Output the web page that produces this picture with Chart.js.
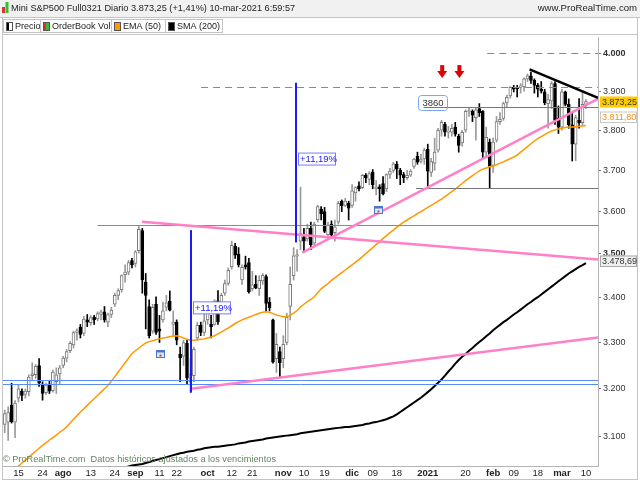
<!DOCTYPE html>
<html>
<head>
<meta charset="utf-8">
<script src="https://cdn.jsdelivr.net/npm/chart.js@4.4.1/dist/chart.umd.min.js"></script>
<style>
  html, body { margin: 0; padding: 0; background: #fff; }
  #wrap { width: 640px; height: 480px; }
</style>
</head>
<body>
<div id="wrap"><canvas id="c" width="640" height="480"></canvas></div>
<script>
// trading days, Jul 9 2020 .. Mar 10 2021 (futures session on Feb 15 included)
const dates = [
  '09/07','10/07','13/07','14/07','15/07','16/07','17/07','20/07','21/07','22/07','23/07','24/07','27/07','28/07','29/07','30/07','31/07',
  '03/08','04/08','05/08','06/08','07/08','10/08','11/08','12/08','13/08','14/08','17/08','18/08','19/08','20/08','21/08','24/08','25/08','26/08','27/08','28/08','31/08',
  '01/09','02/09','03/09','04/09','08/09','09/09','10/09','11/09','14/09','15/09','16/09','17/09','18/09','21/09','22/09','23/09','24/09','25/09','28/09','29/09','30/09',
  '01/10','02/10','05/10','06/10','07/10','08/10','09/10','12/10','13/10','14/10','15/10','16/10','19/10','20/10','21/10','22/10','23/10','26/10','27/10','28/10','29/10','30/10',
  '02/11','03/11','04/11','05/11','06/11','09/11','10/11','11/11','12/11','13/11','16/11','17/11','18/11','19/11','20/11','23/11','24/11','25/11','27/11','30/11',
  '01/12','02/12','03/12','04/12','07/12','08/12','09/12','10/12','11/12','14/12','15/12','16/12','17/12','18/12','21/12','22/12','23/12','24/12','28/12','29/12','30/12','31/12',
  '04/01','05/01','06/01','07/01','08/01','11/01','12/01','13/01','14/01','15/01','19/01','20/01','21/01','22/01','25/01','26/01','27/01','28/01','29/01',
  '01/02','02/02','03/02','04/02','05/02','08/02','09/02','10/02','11/02','12/02','15/02','16/02','17/02','18/02','19/02','22/02','23/02','24/02','25/02','26/02',
  '01/03','02/03','03/03','04/03','05/03','08/03','09/03','10/03'
];

const open = [
  3125,3130,3165,3130,3180,3195,3188,3194,3228,3230,3250,3210,3192,3210,3196,3215,3232,
  3250,3266,3282,3295,3322,3334,3320,3350,3344,3356,3352,3362,3368,3345,3362,3385,3405,3418,3452,3458,3485,
  3478,3508,3555,3435,3380,3325,3385,3330,3350,3378,3392,3340,3345,3275,3270,3298,3215,3228,3310,3338,3322,
  3350,3340,3340,3393,3370,3410,3432,3470,3518,3500,3440,3475,3480,3420,3430,3420,3438,3448,3390,3350,3265,3280,
  3265,3300,3380,3450,3495,3530,3540,3535,3560,3525,3580,3606,3600,3545,3570,3550,3575,3625,3615,3620,
  3615,3645,3662,3658,3688,3678,3696,3655,3660,3668,3655,3690,3700,3715,3700,3690,3682,3688,3710,3735,3722,3728,
  3752,3695,3718,3750,3800,3815,3795,3795,3808,3785,3768,3800,3848,3848,3832,3855,3848,3745,3770,
  3712,3775,3822,3830,3870,3888,3910,3908,3910,3912,3932,3940,3928,3915,3905,3898,3868,3875,3920,3830,
  3808,3898,3866,3814,3765,3825,3819,3866
];
const high = [
  3155,3162,3212,3175,3208,3200,3200,3230,3256,3252,3265,3215,3212,3218,3240,3245,3250,
  3270,3285,3302,3325,3330,3340,3358,3362,3360,3360,3368,3372,3380,3365,3378,3410,3420,3452,3475,3485,3490,
  3508,3566,3560,3455,3395,3385,3402,3360,3390,3405,3415,3370,3350,3290,3305,3305,3265,3290,3345,3345,3380,
  3378,3360,3395,3416,3410,3440,3468,3530,3525,3515,3475,3495,3490,3460,3450,3450,3455,3452,3400,3352,3320,3290,
  3315,3365,3470,3515,3510,3659,3560,3570,3575,3575,3615,3612,3610,3575,3578,3580,3625,3628,3632,3625,
  3665,3660,3672,3690,3692,3697,3702,3675,3665,3685,3692,3705,3720,3722,3705,3695,3700,3702,3730,3745,3740,3755,
  3765,3730,3780,3805,3825,3820,3810,3815,3820,3790,3800,3852,3858,3852,3858,3868,3850,3808,3778,
  3780,3835,3845,3872,3890,3912,3915,3915,3920,3935,3945,3950,3932,3920,3925,3905,3892,3925,3925,3862,
  3905,3900,3880,3843,3838,3881,3900,3878
];
const low = [
  3108,3092,3128,3098,3172,3175,3180,3185,3220,3222,3205,3176,3188,3190,3193,3190,3210,
  3245,3258,3278,3288,3305,3310,3315,3335,3338,3340,3348,3350,3345,3335,3355,3380,3395,3412,3435,3452,3468,
  3470,3502,3410,3330,3310,3320,3318,3300,3345,3370,3370,3315,3295,3215,3250,3210,3192,3215,3305,3315,3315,
  3340,3310,3338,3340,3365,3405,3428,3465,3490,3470,3430,3465,3410,3415,3420,3405,3430,3370,3370,3255,3235,3225,
  3245,3295,3350,3440,3460,3510,3505,3530,3510,3518,3575,3580,3550,3535,3540,3530,3570,3600,3612,3580,
  3610,3625,3650,3655,3670,3665,3655,3640,3625,3640,3648,3680,3695,3680,3665,3670,3678,3685,3705,3715,3718,3715,
  3657,3685,3700,3745,3785,3785,3780,3785,3785,3745,3760,3795,3835,3822,3775,3835,3730,3735,3657,
  3695,3770,3815,3825,3860,3882,3898,3885,3895,3900,3925,3920,3895,3885,3895,3865,3805,3855,3815,3792,
  3800,3862,3805,3723,3724,3805,3812,3855
];
const close = [
  3148,3150,3131,3170,3200,3186,3195,3225,3232,3248,3212,3190,3208,3195,3236,3230,3245,
  3266,3280,3298,3322,3326,3318,3352,3345,3355,3350,3364,3368,3350,3362,3372,3405,3416,3450,3458,3480,3475,
  3505,3558,3440,3405,3315,3378,3322,3325,3370,3388,3372,3345,3305,3267,3300,3223,3232,3285,3338,3322,3348,
  3366,3335,3393,3346,3405,3432,3462,3520,3497,3475,3469,3470,3413,3429,3422,3439,3451,3387,3377,3257,3296,3256,
  3296,3356,3430,3496,3498,3548,3530,3560,3522,3570,3612,3595,3553,3568,3544,3564,3620,3614,3625,3608,
  3650,3658,3655,3688,3682,3692,3665,3660,3655,3643,3690,3698,3716,3703,3688,3682,3688,3698,3728,3720,3728,3750,
  3698,3722,3745,3800,3820,3795,3798,3805,3790,3762,3795,3848,3850,3838,3852,3845,3745,3782,3710,
  3770,3822,3828,3868,3884,3910,3905,3906,3914,3932,3940,3928,3915,3905,3900,3870,3878,3920,3825,3808,
  3898,3866,3814,3765,3832,3819,3866,3873.25
];

const ema50 = [
  3025,3030,3033,3036,3040,3046,3052,3058,3064,3070,
  3076,3082,3087,3093,3098,3103,3109,3114,3120,3128,
  3136,3143,3151,3158,3165,3172,3179,3186,3193,3200,
  3207,3216,3226,3236,3246,3256,3266,3276,3282,3288,
  3294,3299,3302,3304,3306,3308,3310,3311,3313,3314,
  3315,3313,3310,3307,3305,3305,3306,3307,3308,3310,
  3312,3315,3319,3323,3328,3332,3337,3342,3346,3350,
  3353,3356,3359,3362,3365,3367,3368,3367,3364,3361,
  3359,3357,3357,3360,3365,3371,3379,3385,3391,3396,
  3402,3411,3420,3426,3432,3439,3445,3451,3457,3463,
  3469,3475,3481,3487,3494,3501,3508,3515,3522,3529,
  3536,3543,3550,3556,3563,3569,3575,3580,3585,3590,
  3595,3600,3605,3610,3615,3620,3625,3630,3636,3642,
  3648,3654,3661,3668,3675,3681,3687,3693,3699,3703,
  3706,3709,3711,3714,3718,3721,3725,3729,3733,3738,
  3745,3752,3759,3766,3773,3779,3784,3789,3794,3798,
  3801,3803,3805,3807,3808,3808,3809,3810,3811,3811.8
];

const sma200 = [
  null,null,null,null,null,null,null,null,null,null,
  null,null,null,null,null,null,null,null,null,null,
  null,null,null,null,null,null,null,null,null,null,
  3027,3029,3031,3033,3035,3037,3039,3041,3042,3043,
  3044,3046,3048,3050,3052,3054,3056,3058,3060,3062,
  3064,3066,3067,3069,3070,3071,3073,3074,3076,3077,
  3078,3079,3079,3080,3081,3082,3083,3084,3086,3087,
  3088,3090,3091,3092,3093,3094,3096,3097,3098,3099,
  3100,3101,3102,3103,3104,3105,3107,3108,3109,3110,
  3111,3112,3113,3114,3115,3116,3117,3118,3119,3120,
  3120,3121,3122,3123,3124,3126,3127,3129,3130,3132,
  3134,3136,3139,3142,3146,3151,3156,3161,3166,3171,
  3176,3181,3187,3193,3199,3206,3213,3220,3228,3237,
  3245,3254,3262,3269,3275,3282,3288,3295,3301,3307,
  3314,3320,3327,3333,3339,3345,3350,3356,3362,3367,
  3373,3379,3385,3390,3396,3401,3407,3413,3419,3425,
  3431,3437,3443,3449,3455,3460,3465,3470,3474,3478.69
];

const yTicks = [3100, 3200, 3300, 3400, 3500, 3600, 3700, 3800, 3900, 4000];
const tickIdx = [4, 11, 17, 25, 32, 38, 45, 50, 59, 66, 72, 81, 87, 93, 101, 107, 114, 123, 134, 142, 148, 155, 162, 169];
const tickText = ['15','24','ago','13','24','sep','11','22','oct','12','21','nov','10','19','dic','09','18','2021','20','feb','09','18','mar','10'];
const monthText = ['ago','sep','oct','nov','dic','2021','feb','mar'];

// drawn objects, in [bar index, price]
const pinkLines = [[39.9, 3576, 172.5, 3487], [54.2, 3200, 172.5, 3311], [86.5, 3503, 172.5, 3880]];
const blackLine = [152.6, 3957, 172.5, 3883];
const blueLevels = [[27, 3567], [-0.5, 3218], [-0.5, 3210]];
const dashedLevels = [[57.1, 3910], [140.3, 4000]];
const grayLevels = [[122.2, 3860], [119.6, 3657]];
const moves = [[54.2, 3192, 3556], [84.8, 3527, 3922]];
const moveText = '+11,19%';
const arrowsAt = [127.2, 132.2];
const newsAt = [[45.2, 3275], [108.5, 3605]];
const lastPrice = 3873.25;

const FONT = "'Liberation Sans', Arial, sans-serif";
const labels = dates.concat(['', '', '']);
const isUp = i => close[i] >= open[i];
const fmtTick = v => String(v).replace(/(\d)(\d{3})$/, '$1.$2');
const fmtPrice = v => fmtTick(Math.floor(v)) + ',' + v.toFixed(2).split('.')[1];

const drawings = {
  id: 'drawings',
  afterDatasetsDraw(chart) {
    const { ctx, chartArea: a, scales: { x, y } } = chart;
    const X = i => x.getPixelForValue(i), Y = v => y.getPixelForValue(v);
    ctx.save();
    ctx.beginPath(); ctx.rect(a.left, a.top, a.right - a.left, a.bottom - a.top); ctx.clip();
    const seg = (x1, y1, x2, y2, color, w, dash) => {
      ctx.beginPath(); ctx.strokeStyle = color; ctx.lineWidth = w; ctx.setLineDash(dash || []);
      ctx.moveTo(x1, y1); ctx.lineTo(x2, y2); ctx.stroke();
    };
    dashedLevels.forEach(([i, v]) => seg(X(i), Math.round(Y(v)) + 0.5, a.right, Math.round(Y(v)) + 0.5, '#8a8a8a', 1, [7, 5]));
    grayLevels.forEach(([i, v]) => seg(X(i), Math.round(Y(v)) + 0.5, a.right, Math.round(Y(v)) + 0.5, '#777', 1));
    blueLevels.forEach(([i, v]) => seg(X(i), Math.round(Y(v)) + 0.5, a.right, Math.round(Y(v)) + 0.5, '#5b8cf5', 1));
    pinkLines.forEach(([i1, v1, i2, v2]) => seg(X(i1), Y(v1), X(i2), Y(v2), '#ff7fc8', 2.5));
    seg(X(blackLine[0]), Y(blackLine[1]), X(blackLine[2]), Y(blackLine[3]), '#000', 2.5);
    ctx.setLineDash([]);
    // small news marks
    newsAt.forEach(([i, v]) => {
      const nx = Math.round(X(i)) - 3.5, ny = Math.round(Y(v)) - 3.5;
      ctx.fillStyle = '#dfe8f8'; ctx.fillRect(nx, ny, 8, 7);
      ctx.strokeStyle = '#4a78c8'; ctx.lineWidth = 1; ctx.strokeRect(nx, ny, 8, 7);
      ctx.fillStyle = '#4a78c8'; ctx.fillRect(nx, ny, 8, 2);
      ctx.fillStyle = '#d04040'; ctx.fillRect(nx + 3, ny + 4, 2, 2);
    });
    ctx.font = '9.5px ' + FONT; ctx.textBaseline = 'middle';
    moves.forEach(([i, lo, hi]) => {
      const px = Math.round(X(i));
      ctx.fillStyle = '#1a1aff'; ctx.fillRect(px - 1, Y(hi), 2, Y(lo) - Y(hi));
      const my = (Y(lo) + Y(hi)) / 2 - 3;
      ctx.fillStyle = '#fff'; ctx.fillRect(px + 2.5, my - 6.5, 37, 12);
      ctx.strokeStyle = '#7a7aff'; ctx.lineWidth = 1; ctx.strokeRect(px + 2.5, my - 6.5, 37, 12);
      ctx.fillStyle = '#1a1aff'; ctx.fillText(moveText, px + 4, my);
    });
    // 3860 tag
    const tx = Math.round(X(120.2)) + 0.5, ty = Math.round(Y(3860));
    ctx.fillStyle = '#fff'; ctx.strokeStyle = '#7aa6f0';
    ctx.beginPath(); ctx.roundRect(tx, ty - 11.5, 29, 15, 3); ctx.fill(); ctx.stroke();
    seg(tx + 5, ty + 0.5, tx + 29, ty + 0.5, '#777', 1);
    ctx.fillStyle = '#333'; ctx.fillText('3860', tx + 4, ty - 4);
    // red arrows
    ctx.fillStyle = '#e00000';
    arrowsAt.forEach(i => {
      const ax = X(i), tip = Y(3934);
      ctx.fillRect(ax - 2, tip - 13, 4, 7);
      ctx.beginPath(); ctx.moveTo(ax - 5, tip - 7); ctx.lineTo(ax + 5, tip - 7); ctx.lineTo(ax, tip); ctx.closePath(); ctx.fill();
    });
    ctx.restore();
  },
  afterDraw(chart) {
    const { ctx, scales: { y } } = chart;
    ctx.save();
    // frame
    ctx.strokeStyle = '#c4c4c4'; ctx.lineWidth = 1;
    ctx.strokeRect(2.5, 17.5, 635, 462);
    ctx.beginPath(); ctx.moveTo(2.5, 34.5); ctx.lineTo(637.5, 34.5); ctx.stroke();
    // title bar
    ctx.fillStyle = '#f1f1f1'; ctx.fillRect(0, 0, 640, 17);
    ctx.strokeStyle = '#c4c4c4'; ctx.beginPath(); ctx.moveTo(0, 17.5); ctx.lineTo(640, 17.5); ctx.stroke();
    ctx.fillStyle = '#e03030'; ctx.fillRect(2, 7, 3, 6);
    ctx.fillStyle = '#30c030'; ctx.fillRect(5.5, 2, 3, 11);
    ctx.font = '9.2px ' + FONT; ctx.textBaseline = 'middle'; ctx.fillStyle = '#222';
    ctx.fillText('Mini S&P500 Full0321 Diario 3.873,25 (+1,41%) 10-mar-2021 6:59:57', 11, 8.5);
    ctx.font = '9.6px ' + FONT;
    ctx.textAlign = 'right'; ctx.fillText('www.ProRealTime.com', 637, 8.5);
    ctx.textAlign = 'left';
    // legend row
    ctx.font = '9px ' + FONT;
    const cells = [[3, 40, 'Precio', ['#000', '#fff']], [40, 111, 'OrderBook Vol', ['#e03030', '#30c030']],
                   [111, 165, 'EMA (50)', ['#ff9900', '#ff9900']], [165, 222, 'SMA (200)', ['#000', '#000']]];
    cells.forEach(([x0, x1, txt, cols]) => {
      ctx.strokeStyle = '#c4c4c4'; ctx.strokeRect(x0 + 0.5, 19.5, x1 - x0, 13);
      ctx.fillStyle = cols[0]; ctx.fillRect(x0 + 3, 22, 3, 9);
      ctx.fillStyle = cols[1]; ctx.fillRect(x0 + 6, 22, 3, 9);
      ctx.strokeStyle = '#555'; ctx.strokeRect(x0 + 3.5, 22.5, 6, 8);
      ctx.fillStyle = '#222'; ctx.fillText(txt, x0 + 12, 26.5);
    });
    // footer note
    ctx.font = '9.2px ' + FONT; ctx.fillStyle = '#5f855f';
    ctx.fillText('\u00a9 ProRealTime.com  Datos hist\u00f3ricos ajustados a los vencimientos', 3, 459);
    // price tags on the axis
    ctx.font = '9px ' + FONT;
    const tag = (v, dy, fill, border, color) => {
      const cy = Math.round(y.getPixelForValue(v)) + dy;
      ctx.fillStyle = fill; ctx.fillRect(600, cy - 5.5, 37, 11);
      if (border) { ctx.strokeStyle = border; ctx.strokeRect(600.5, cy - 5, 36, 10.5); }
      ctx.fillStyle = color; ctx.fillText(fmtPrice(v), 602, cy + 0.5);
    };
    tag(sma200[sma200.length - 1], -2, '#f0f0f0', '#a8a8a8', '#333');
    tag(ema50[ema50.length - 1], -9, '#fff', '#c8c8c8', '#ff8c00');
    tag(lastPrice, 0, '#ffcc00', null, '#333');
    ctx.restore();
  }
};

new Chart(document.getElementById('c'), {
  type: 'bar',
  data: {
    labels: labels,
    datasets: [
      { type: 'line', label: 'EMA (50)', data: ema50, borderColor: '#ff9900', borderWidth: 1.5, pointRadius: 0, tension: 0 },
      { type: 'line', label: 'SMA (200)', data: sma200, borderColor: '#000', borderWidth: 2, pointRadius: 0, tension: 0 },
      {
        label: 'body',
        data: open.map((o, i) => [Math.min(o, close[i]), Math.max(o, close[i])]),
        barThickness: 3, grouped: false, borderWidth: 1, borderSkipped: false,
        backgroundColor: ctx => isUp(ctx.dataIndex) ? '#fff' : '#000',
        borderColor: ctx => isUp(ctx.dataIndex) ? '#7a7a7a' : '#000'
      },
      {
        label: 'wick',
        data: low.map((l, i) => [l, high[i]]),
        barThickness: 1, grouped: false,
        backgroundColor: ctx => isUp(ctx.dataIndex) ? '#9a9a9a' : '#000'
      }
    ]
  },
  options: {
    responsive: false,
    animation: false,
    layout: { padding: { left: 3, top: 37, right: 0, bottom: 0 } },
    plugins: { legend: { display: false }, tooltip: { enabled: false } },
    scales: {
      x: {
        type: 'category',
        offset: true,
        afterBuildTicks: s => { s.ticks = tickIdx.map(i => ({ value: i })); },
        afterFit: s => { s.height = 14; },
        grid: { display: false, drawTicks: false },
        border: { display: true, color: '#b4b4b4' },
        ticks: {
          autoSkip: false, maxRotation: 0, padding: 2, color: '#222',
          callback: (v, i) => tickText[i],
          font: ctx => ({ family: FONT, size: 9.5, weight: monthText.includes(tickText[ctx.index]) ? 'bold' : 'normal' })
        }
      },
      y: {
        type: 'logarithmic',
        position: 'right',
        min: 3040,
        max: 4043,
        afterBuildTicks: s => { s.ticks = yTicks.map(v => ({ value: v })); },
        afterFit: s => { s.width = 42; },
        grid: { drawOnChartArea: false, drawTicks: true, tickLength: 3, color: '#777' },
        border: { display: true, color: '#b4b4b4' },
        ticks: {
          color: '#333', padding: 2,
          callback: v => fmtTick(v),
          font: ctx => ({ family: FONT, size: 9, weight: ctx.tick && ctx.tick.value % 500 === 0 ? 'bold' : 'normal' })
        }
      }
    }
  },
  plugins: [drawings]
});
</script>
</body>
</html>
